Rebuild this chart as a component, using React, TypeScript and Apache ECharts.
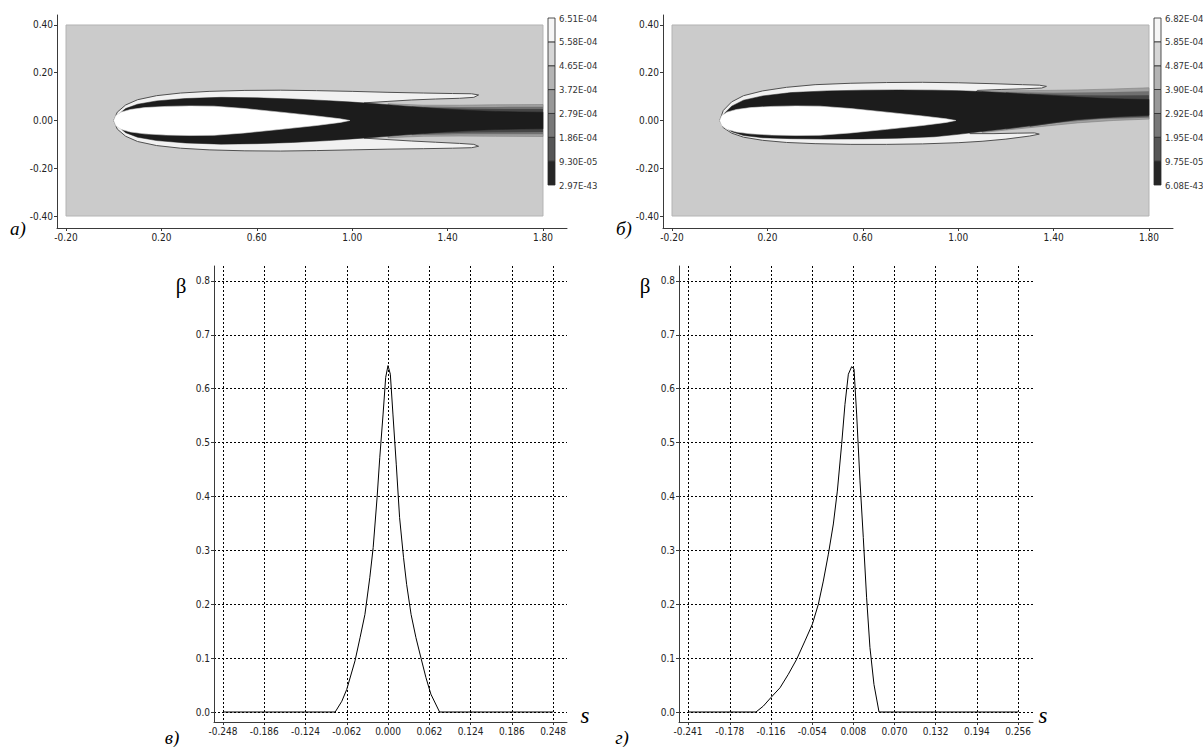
import React, { useEffect, useRef } from "react";
import * as echarts from "echarts";

// ---------------- data ----------------
const TOP_X_TICKS = [-0.2, 0.2, 0.6, 1.0, 1.4, 1.8];
const TOP_Y_TICKS = [-0.4, -0.2, 0, 0.2, 0.4];

const V_X_TICKS = [-0.248, -0.186, -0.124, -0.062, 0, 0.062, 0.124, 0.186, 0.248];
const G_X_TICKS = [-0.241, -0.178, -0.116, -0.054, 0.008, 0.07, 0.132, 0.194, 0.256];
const BETA_TICKS = [0, 0.1, 0.2, 0.3, 0.4, 0.5, 0.6, 0.7, 0.8];

const LEGEND_A_LEVELS = [2.97e-43, 9.3e-5, 1.86e-4, 2.79e-4, 3.72e-4, 4.65e-4, 5.58e-4, 6.51e-4];
const LEGEND_A_LABELS = ["2.97E-43", "9.30E-05", "1.86E-04", "2.79E-04", "3.72E-04", "4.65E-04", "5.58E-04", "6.51E-04"];
const LEGEND_B_LEVELS = [6.08e-43, 9.75e-5, 1.95e-4, 2.92e-4, 3.9e-4, 4.87e-4, 5.85e-4, 6.82e-4];
const LEGEND_B_LABELS = ["6.08E-43", "9.75E-05", "1.95E-04", "2.92E-04", "3.90E-04", "4.87E-04", "5.85E-04", "6.82E-04"];

// computational region
const REGION = [[-0.2, -0.4], [1.8, -0.4], [1.8, 0.4], [-0.2, 0.4]];

// white body (highest level)
const BODY = [
  [0.0, 0.0], [0.008, 0.02], [0.03, 0.035], [0.07, 0.046], [0.13, 0.054], [0.22, 0.059], [0.32, 0.061],
  [0.42, 0.06], [0.55, 0.05], [0.7, 0.035], [0.85, 0.019], [0.95, 0.007], [0.99, 0.0], [0.95, -0.008],
  [0.85, -0.021], [0.7, -0.037], [0.55, -0.052], [0.42, -0.062], [0.32, -0.063], [0.22, -0.061],
  [0.13, -0.056], [0.07, -0.048], [0.03, -0.037], [0.008, -0.021],
];

// panel a
const ENVELOPE_A = [
  [0.0, 0.0], [0.015, 0.035], [0.05, 0.065], [0.1, 0.087], [0.18, 0.104], [0.28, 0.115], [0.4, 0.122],
  [0.55, 0.126], [0.7, 0.127], [0.85, 0.125], [1.0, 0.122], [1.15, 0.118], [1.3, 0.115], [1.42, 0.113],
  [1.5, 0.112], [1.53, 0.107], [1.51, 0.097], [1.45, 0.093], [1.35, 0.09], [1.25, 0.086], [1.15, 0.08],
  [1.05, 0.074], [1.0, 0.0], [1.05, -0.074], [1.15, -0.08], [1.25, -0.086], [1.35, -0.091], [1.45, -0.096],
  [1.51, -0.1], [1.53, -0.108], [1.5, -0.114], [1.42, -0.116], [1.3, -0.118], [1.15, -0.12], [1.0, -0.123],
  [0.85, -0.126], [0.7, -0.128], [0.55, -0.127], [0.4, -0.123], [0.28, -0.116], [0.18, -0.105],
  [0.1, -0.088], [0.05, -0.066], [0.015, -0.036],
];
const WAKE_A1 = [[1.15, 0.07], [1.3, 0.064], [1.45, 0.064], [1.6, 0.066], [1.8, 0.067], [1.8, -0.067], [1.6, -0.066], [1.45, -0.065], [1.3, -0.066], [1.15, -0.072]];
const WAKE_A2 = [[1.25, 0.06], [1.45, 0.057], [1.6, 0.057], [1.8, 0.058], [1.8, -0.058], [1.6, -0.058], [1.45, -0.058], [1.25, -0.062]];
const WAKE_A3 = [[1.3, 0.054], [1.5, 0.049], [1.65, 0.048], [1.8, 0.048], [1.8, -0.048], [1.65, -0.049], [1.5, -0.05], [1.3, -0.055]];
const CORE_A = [
  [0.005, 0.0], [0.02, 0.025], [0.05, 0.05], [0.1, 0.068], [0.18, 0.082], [0.3, 0.092], [0.45, 0.097],
  [0.6, 0.095], [0.75, 0.09], [0.9, 0.083], [1.0, 0.077], [1.1, 0.07], [1.2, 0.062], [1.3, 0.054],
  [1.4, 0.047], [1.5, 0.042], [1.6, 0.038], [1.7, 0.036], [1.8, 0.035], [1.8, -0.035], [1.7, -0.036],
  [1.6, -0.038], [1.5, -0.042], [1.4, -0.047], [1.3, -0.054], [1.2, -0.062], [1.1, -0.07], [1.0, -0.077],
  [0.9, -0.084], [0.75, -0.092], [0.6, -0.097], [0.45, -0.099], [0.3, -0.094], [0.18, -0.084],
  [0.1, -0.07], [0.05, -0.051], [0.02, -0.026],
];

// panel b
const ENVELOPE_B = [
  [0.0, 0.0], [0.015, 0.042], [0.05, 0.078], [0.1, 0.104], [0.18, 0.124], [0.28, 0.139], [0.4, 0.15],
  [0.55, 0.156], [0.7, 0.159], [0.85, 0.16], [1.0, 0.158], [1.15, 0.154], [1.27, 0.15], [1.34, 0.148],
  [1.37, 0.143], [1.35, 0.136], [1.28, 0.133], [1.18, 0.13], [1.08, 0.126], [1.0, 0.0], [1.05, -0.055],
  [1.15, -0.055], [1.25, -0.053], [1.32, -0.052], [1.34, -0.057], [1.3, -0.065], [1.2, -0.078],
  [1.1, -0.087], [1.0, -0.093], [0.85, -0.098], [0.7, -0.1], [0.55, -0.1], [0.4, -0.097], [0.28, -0.092],
  [0.18, -0.083], [0.1, -0.07], [0.05, -0.053], [0.015, -0.03],
];
const WAKE_B1 = [[1.1, 0.124], [1.3, 0.125], [1.5, 0.128], [1.65, 0.132], [1.8, 0.137], [1.8, 0.006], [1.65, 0.0], [1.5, -0.01], [1.35, -0.025], [1.2, -0.04], [1.1, -0.05]];
const WAKE_B2 = [[1.2, 0.119], [1.4, 0.116], [1.6, 0.118], [1.8, 0.122], [1.8, 0.012], [1.6, 0.006], [1.4, -0.012], [1.2, -0.038]];
const WAKE_B3 = [[1.3, 0.112], [1.5, 0.106], [1.65, 0.105], [1.8, 0.106], [1.8, 0.017], [1.65, 0.012], [1.5, 0.002], [1.3, -0.026]];
const CORE_B = [
  [0.005, 0.0], [0.02, 0.03], [0.05, 0.06], [0.1, 0.085], [0.18, 0.103], [0.3, 0.117], [0.45, 0.124],
  [0.6, 0.127], [0.75, 0.128], [0.9, 0.127], [1.0, 0.125], [1.1, 0.121], [1.2, 0.116], [1.3, 0.11],
  [1.4, 0.104], [1.5, 0.098], [1.6, 0.093], [1.7, 0.09], [1.8, 0.088], [1.8, 0.022], [1.7, 0.018],
  [1.6, 0.012], [1.5, 0.004], [1.4, -0.008], [1.3, -0.022], [1.2, -0.035], [1.1, -0.046], [1.0, -0.058],
  [0.9, -0.068], [0.75, -0.074], [0.6, -0.077], [0.45, -0.078], [0.3, -0.076], [0.18, -0.072],
  [0.1, -0.063], [0.05, -0.047], [0.02, -0.025],
];

// panel в
const S_V = [-0.248, -0.0794, -0.0694, -0.062, -0.0496, -0.042, -0.0347, -0.0273, -0.0223, -0.0164, -0.0124, -0.0074, -0.0035, 0, 0.0035, 0.0074, 0.0124, 0.0174, 0.0233, 0.028, 0.0347, 0.042, 0.0496, 0.057, 0.0645, 0.0775, 0.248];
const BETA_V = [0, 0, 0.02, 0.042, 0.095, 0.138, 0.181, 0.25, 0.305, 0.398, 0.472, 0.553, 0.621, 0.643, 0.627, 0.553, 0.46, 0.361, 0.287, 0.237, 0.181, 0.138, 0.1, 0.064, 0.033, 0, 0];
// panel г
const S_G = [-0.241, -0.1386, -0.1275, -0.116, -0.1024, -0.0899, -0.0773, -0.0648, -0.0537, -0.0447, -0.0372, -0.0296, -0.0221, -0.0161, -0.0096, -0.0046, 0.0005, 0.0055, 0.009, 0.013, 0.018, 0.023, 0.028, 0.033, 0.0391, 0.0467, 0.256];
const BETA_G = [0, 0, 0.011, 0.027, 0.045, 0.07, 0.098, 0.132, 0.163, 0.2, 0.243, 0.293, 0.349, 0.41, 0.497, 0.571, 0.627, 0.641, 0.637, 0.553, 0.429, 0.324, 0.212, 0.12, 0.051, 0, 0];

// ---------------- styles ----------------
const LAYERS_A = [REGION, ENVELOPE_A, WAKE_A1, WAKE_A2, WAKE_A3, CORE_A, BODY];
const LAYERS_B = [REGION, ENVELOPE_B, WAKE_B1, WAKE_B2, WAKE_B3, CORE_B, BODY];
const LAYER_STYLES = [
  { fill: "#cbcbcb", stroke: "#b4b4b4", lineWidth: 1 },
  { fill: "#f1f1f1", stroke: "#505050", lineWidth: 1 },
  { fill: "#a0a0a0", stroke: "#808080", lineWidth: 0.6 },
  { fill: "#707070", stroke: "none", lineWidth: 0 },
  { fill: "#464646", stroke: "none", lineWidth: 0 },
  { fill: "#1c1c1c", stroke: "#1c1c1c", lineWidth: 0.5 },
  { fill: "#ffffff", stroke: "#d8d8d8", lineWidth: 0.6 },
];
const SHADES = ["#262626", "#565656", "#787878", "#989898", "#b4b4b4", "#d6d6d6", "#f6f6f6"];

const AX = "#3a3a3a";
const LABEL_FONT = '"Liberation Sans Narrow", "DejaVu Sans Condensed", "Liberation Sans", Arial, sans-serif';

function plotAxis(gridIndex: number, min: number, max: number, ticks: number[], digits: number, split: boolean, pos: string) {
  return {
    type: "value",
    gridIndex,
    position: pos,
    min,
    max,
    axisLine: { show: true, onZero: false, lineStyle: { color: AX, width: 1 } },
    axisTick: { show: true, length: 3, customValues: ticks, lineStyle: { color: AX } },
    axisLabel: {
      show: true,
      customValues: ticks,
      formatter: (v: number) => v.toFixed(digits),
      fontSize: 10,
      fontFamily: LABEL_FONT,
      color: "#222",
      margin: 4,
    },
    splitLine: { show: split, lineStyle: { color: "#000", width: 1, type: [2, 2] } },
  };
}

function nearest(levels: number[], v: number) {
  let best = 0;
  levels.forEach((l, i) => {
    if (Math.abs(l - v) < Math.abs(levels[best] - v)) best = i;
  });
  return best;
}

function barXAxis(gridIndex: number) {
  return { type: "value", gridIndex, min: 0, max: 1, show: false };
}
function barYAxis(gridIndex: number, levels: number[], labels: string[]) {
  return {
    type: "value",
    gridIndex,
    position: "right",
    min: 0,
    max: levels[levels.length - 1],
    axisLine: { show: false },
    axisTick: { show: false, customValues: levels },
    splitLine: { show: false },
    axisLabel: {
      customValues: levels,
      formatter: (v: number) => labels[nearest(levels, v)],
      fontSize: 9.5,
      fontFamily: LABEL_FONT,
      color: "#333",
      margin: 4,
    },
  };
}

function contourSeries(idx: number, layers: number[][][]) {
  return {
    type: "custom",
    xAxisIndex: idx,
    yAxisIndex: idx,
    silent: true,
    data: layers.map((l) => [l[0][0], l[0][1]]),
    renderItem: (params: any, api: any) => {
      const i = params.dataIndex;
      const st = LAYER_STYLES[i];
      return {
        type: "polygon",
        shape: { points: layers[i].map((p) => api.coord(p)) },
        style: { fill: st.fill, stroke: st.stroke, lineWidth: st.lineWidth },
      };
    },
  };
}

function colorbarSeries(idx: number, levels: number[]) {
  return {
    type: "custom",
    xAxisIndex: idx,
    yAxisIndex: idx,
    silent: true,
    data: levels.slice(1).map((hi, i) => [0, levels[i], hi]),
    encode: { x: 0, y: 1 },
    renderItem: (params: any, api: any) => {
      const lo = api.value(1);
      const hi = api.value(2);
      const a = api.coord([0, hi]);
      const b = api.coord([1, lo]);
      return {
        type: "rect",
        shape: { x: a[0], y: a[1], width: b[0] - a[0], height: b[1] - a[1] },
        style: { fill: SHADES[params.dataIndex], stroke: "#2a2a2a", lineWidth: 0.8 },
      };
    },
  };
}

function lineSeries(idx: number, xs: number[], ys: number[]) {
  return {
    type: "line",
    xAxisIndex: idx,
    yAxisIndex: idx,
    data: xs.map((s, i) => [s, ys[i]]),
    showSymbol: false,
    symbol: "none",
    silent: true,
    lineStyle: { color: "#000", width: 1 },
  };
}

function txt(text: string, x: number, y: number, font: string) {
  return {
    type: "text",
    x,
    y,
    silent: true,
    style: { text, font, fill: "#000", textAlign: "center", textVerticalAlign: "middle" },
  };
}

function buildOption() {
  const g = (left: number, top: number, width: number, height: number) => ({
    left, top, width, height, containLabel: false, outerBoundsMode: "none",
  });
  return {
    animation: false,
    backgroundColor: "#ffffff",
    grid: [
      g(57, 15, 510, 213),
      g(548, 18, 7, 167),
      g(663, 15, 510, 213),
      g(1154, 18, 7, 167),
      g(214, 266, 353, 456),
      g(679, 266, 354, 456),
    ],
    xAxis: [
      plotAxis(0, -0.23774, 1.90063, TOP_X_TICKS, 2, false, "bottom"),
      barXAxis(1),
      plotAxis(2, -0.23774, 1.90063, TOP_X_TICKS, 2, false, "bottom"),
      barXAxis(3),
      plotAxis(4, -0.26153, 0.26904, V_X_TICKS, 3, true, "bottom"),
      plotAxis(5, -0.254554, 0.27859, G_X_TICKS, 3, true, "bottom"),
    ],
    yAxis: [
      plotAxis(0, -0.45026, 0.44188, TOP_Y_TICKS, 2, false, "left"),
      barYAxis(1, LEGEND_A_LEVELS, LEGEND_A_LABELS),
      plotAxis(2, -0.45026, 0.44188, TOP_Y_TICKS, 2, false, "left"),
      barYAxis(3, LEGEND_B_LEVELS, LEGEND_B_LABELS),
      plotAxis(4, -0.018561, 0.827842, BETA_TICKS, 1, true, "left"),
      plotAxis(5, -0.018561, 0.827842, BETA_TICKS, 1, true, "left"),
    ],
    series: [
      contourSeries(0, LAYERS_A),
      colorbarSeries(1, LEGEND_A_LEVELS),
      contourSeries(2, LAYERS_B),
      colorbarSeries(3, LEGEND_B_LEVELS),
      lineSeries(4, S_V, BETA_V),
      lineSeries(5, S_G, BETA_G),
    ],
    graphic: [
      txt("а)", 18, 228, 'italic 19px "Liberation Serif", serif'),
      txt("б)", 624, 228, 'italic 19px "Liberation Serif", serif'),
      txt("в)", 172, 737, 'italic 19px "Liberation Serif", serif'),
      txt("г)", 622, 737, 'italic 19px "Liberation Serif", serif'),
      txt("β", 181, 286, '21px "Liberation Serif", serif'),
      txt("β", 645, 286, '21px "Liberation Serif", serif'),
      txt("s", 585, 715, 'italic 23px "Liberation Serif", serif'),
      txt("s", 1043, 715, 'italic 23px "Liberation Serif", serif'),
    ],
  };
}

export default function App() {
  const ref = useRef<HTMLDivElement>(null);
  useEffect(() => {
    const chart = echarts.init(ref.current as HTMLDivElement, null, { renderer: "svg" });
    chart.setOption(buildOption() as any);
    return () => chart.dispose();
  }, []);
  return (
    <div
      ref={ref}
      style={{ position: "fixed", left: 0, top: 0, width: 1203, height: 747, background: "#fff" }}
    />
  );
}
